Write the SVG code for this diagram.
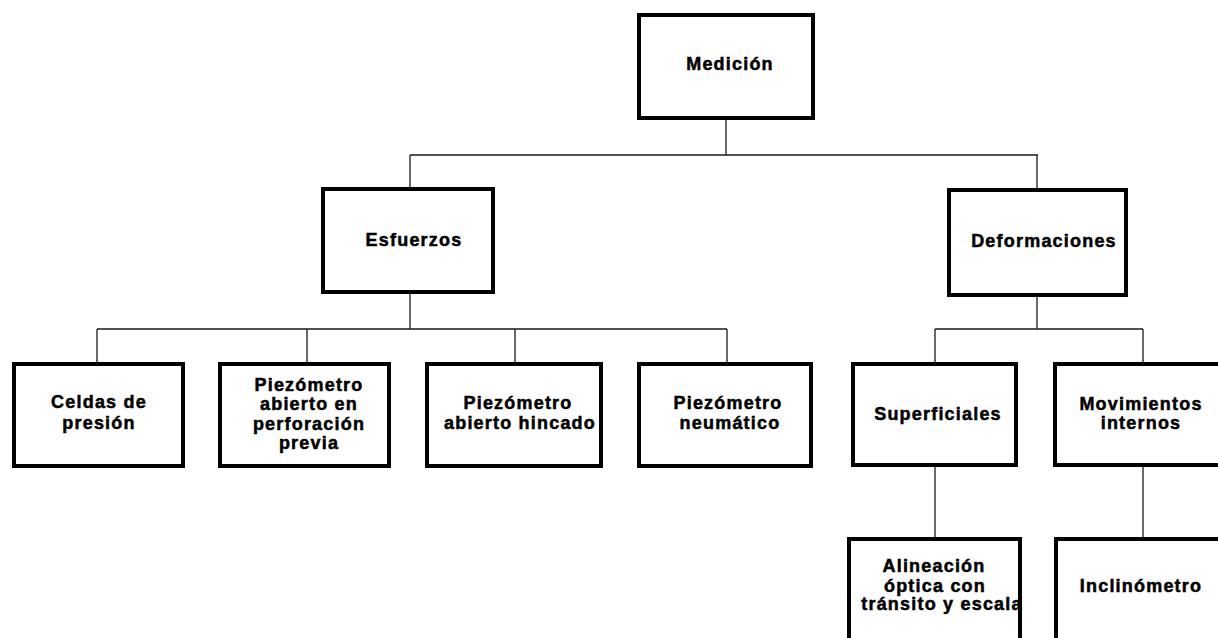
<svg xmlns="http://www.w3.org/2000/svg" width="1218" height="638" viewBox="0 0 1218 638">
<style>
.box{fill:#fff;stroke:#000;stroke-width:4}
.lbl{font-family:"Liberation Sans",Arial,sans-serif;font-weight:bold;font-size:18px;letter-spacing:1.2px;text-anchor:middle;fill:#000;stroke:#000;stroke-width:0.5}
.con{stroke:#1a1a1a;stroke-width:1.3;fill:none}
</style>
<rect width="1218" height="638" fill="#fff"/>
<g id="connectors">
<path class="con" d="M726 120V155M410 155H1038M410 155V189M1037 155V190"/>
<path class="con" d="M410 293V329M97 329H727M97 329V364M307 329V364M515 329V364M727 329V364"/>
<path class="con" d="M1037 297V329M935 329H1143M935 329V364M1143 329V364"/>
<path class="con" d="M935 467V539M1143 467V539"/>
</g>
<g id="medicion"><rect class="box" x="639" y="15" width="174" height="103"/><text class="lbl" x="730" y="70">Medición</text></g>
<g id="esfuerzos"><rect class="box" x="323" y="189" width="170" height="103"/><text class="lbl" x="414" y="246">Esfuerzos</text></g>
<g id="deformaciones"><rect class="box" x="949" y="190" width="177" height="105"/><text class="lbl" x="1044" y="247">Deformaciones</text></g>
<g id="celdas"><rect class="box" x="14" y="364" width="169" height="102"/><text class="lbl" x="99" y="408">Celdas de</text><text class="lbl" x="99" y="429">presión</text></g>
<g id="piezo-perforacion"><rect class="box" x="220" y="364" width="169" height="102"/><text class="lbl" x="309" y="391">Piezómetro</text><text class="lbl" x="309" y="410">abierto en</text><text class="lbl" x="309" y="430">perforación</text><text class="lbl" x="309" y="449">previa</text></g>
<g id="piezo-hincado"><rect class="box" x="427" y="364" width="174" height="102"/><text class="lbl" x="518" y="409">Piezómetro</text><text class="lbl" x="520" y="429">abierto hincado</text></g>
<g id="piezo-neumatico"><rect class="box" x="639" y="364" width="172" height="102"/><text class="lbl" x="728" y="409">Piezómetro</text><text class="lbl" x="730" y="429">neumático</text></g>
<g id="superficiales"><rect class="box" x="853" y="364" width="163" height="101"/><text class="lbl" x="938" y="420">Superficiales</text></g>
<g id="movimientos"><rect class="box" x="1055" y="364" width="170" height="101"/><text class="lbl" x="1141" y="410">Movimientos</text><text class="lbl" x="1141" y="429">internos</text></g>
<g id="alineacion"><rect class="box" x="849" y="539" width="171" height="120"/><text class="lbl" x="934" y="572">Alineación</text><text class="lbl" x="935" y="592">óptica con</text><text class="lbl" x="942" y="610">tránsito y escala</text></g>
<g id="inclinometro"><rect class="box" x="1056" y="539" width="170" height="120"/><text class="lbl" x="1141" y="592">Inclinómetro</text></g>
</svg>
